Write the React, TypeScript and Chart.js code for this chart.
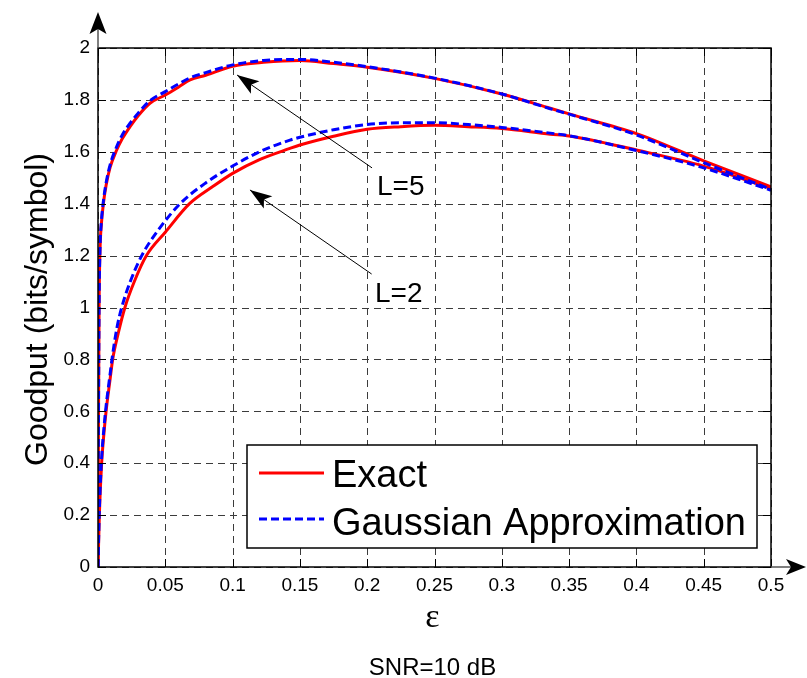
import React, { useEffect, useRef } from 'react';
import { Chart, registerables } from 'chart.js';

Chart.register(...registerables);

const FONT = '"Liberation Sans", Arial, Helvetica, sans-serif';

// ---- axis ticks ----
const xTickValues = [0, 0.05, 0.1, 0.15, 0.2, 0.25, 0.3, 0.35, 0.4, 0.45, 0.5];
const xTickLabels = ['0', '0.05', '0.1', '0.15', '0.2', '0.25', '0.3', '0.35', '0.4', '0.45', '0.5'];
const yTickValues = [0, 0.2, 0.4, 0.6, 0.8, 1, 1.2, 1.4, 1.6, 1.8, 2];
const yTickLabels = ['0', '0.2', '0.4', '0.6', '0.8', '1', '1.2', '1.4', '1.6', '1.8', '2'];

// ---- series: L=5 ----
const l5ExactEps = [0, 0.0003, 0.0008, 0.0015, 0.0025, 0.004, 0.006, 0.009, 0.0139, 0.018, 0.0238, 0.03, 0.0386, 0.05, 0.06, 0.0684, 0.08, 0.1, 0.1229, 0.15, 0.175, 0.2, 0.25, 0.3, 0.336, 0.35, 0.4, 0.45, 0.5];
const l5ExactGoodput = [0, 0.5, 1.0, 1.22, 1.32, 1.4, 1.47, 1.54, 1.607, 1.65, 1.697, 1.74, 1.787, 1.819, 1.85, 1.877, 1.895, 1.93, 1.945, 1.952, 1.94, 1.926, 1.883, 1.823, 1.768, 1.746, 1.67, 1.565, 1.465];
const l5GaussEps = [0, 0.0003, 0.0008, 0.0015, 0.0025, 0.004, 0.006, 0.009, 0.0139, 0.018, 0.0238, 0.03, 0.0386, 0.05, 0.06, 0.0684, 0.08, 0.1, 0.1229, 0.15, 0.175, 0.2, 0.25, 0.3, 0.336, 0.35, 0.4, 0.45, 0.5];
const l5GaussGoodput = [0, 0.5, 1.0, 1.23, 1.33, 1.41, 1.48, 1.55, 1.62, 1.665, 1.71, 1.75, 1.797, 1.832, 1.862, 1.885, 1.905, 1.935, 1.952, 1.956, 1.945, 1.928, 1.884, 1.823, 1.766, 1.745, 1.665, 1.558, 1.455];

// ---- series: L=2 ----
const l2ExactEps = [0, 0.001, 0.0027, 0.0045, 0.006, 0.0089, 0.0109, 0.015, 0.02, 0.027, 0.036, 0.05, 0.068, 0.085, 0.1, 0.12, 0.1426, 0.15, 0.175, 0.2, 0.225, 0.25, 0.275, 0.3, 0.336, 0.35, 0.4, 0.45, 0.5];
const l2ExactGoodput = [0, 0.2, 0.4, 0.52, 0.6, 0.72, 0.8, 0.9, 1.0, 1.1, 1.2, 1.29, 1.4, 1.465, 1.517, 1.57, 1.613, 1.626, 1.66, 1.687, 1.697, 1.702, 1.697, 1.69, 1.668, 1.661, 1.607, 1.545, 1.458];
const l2GaussEps = [0, 0.001, 0.0027, 0.0045, 0.006, 0.0089, 0.0109, 0.014, 0.0176, 0.024, 0.0325, 0.045, 0.061, 0.08, 0.1, 0.12, 0.1426, 0.15, 0.175, 0.2, 0.225, 0.25, 0.275, 0.3, 0.336, 0.35, 0.4, 0.45, 0.5];
const l2GaussGoodput = [0, 0.22, 0.42, 0.54, 0.62, 0.74, 0.82, 0.92, 1.0, 1.1, 1.2, 1.3, 1.4, 1.48, 1.545, 1.6, 1.645, 1.656, 1.685, 1.705, 1.712, 1.712, 1.705, 1.694, 1.672, 1.662, 1.605, 1.538, 1.452];

const seriesLabels = ['Exact', 'Gaussian Approximation'];
const xTitle = 'ε';
const yTitle = 'Goodput (bits/symbol)';
const bottomNote = 'SNR=10 dB';

// annotation labels with arrow tip / tail, in data units
const annotationLabels = ['L=5', 'L=2'];
const annotationText = [[0.2073, 1.434], [0.2058, 1.021]];
const annotationTail = [[0.2036, 1.538], [0.2033, 1.129]];
const annotationTip = [[0.1033, 1.896], [0.1129, 1.453]];

const RED = '#ff0000';
const BLUE = '#0000ff';
const DASH = [8, 4];

const toPoints = (xs: number[], ys: number[]) => xs.map((x, i) => ({ x, y: ys[i] }));

function arrowHead(ctx: CanvasRenderingContext2D, tx: number, ty: number, fx: number, fy: number, len: number, half: number, notch: number) {
  const ang = Math.atan2(ty - fy, tx - fx);
  const c = Math.cos(ang), s = Math.sin(ang);
  const bx = tx - len * c, by = ty - len * s;
  const nx = tx - (len - notch) * c, ny = ty - (len - notch) * s;
  ctx.beginPath();
  ctx.moveTo(tx, ty);
  ctx.lineTo(bx - half * s, by + half * c);
  ctx.lineTo(nx, ny);
  ctx.lineTo(bx + half * s, by - half * c);
  ctx.closePath();
  ctx.fill();
}

const decorPlugin = {
  id: 'decor',
  beforeDatasetsDraw(chart: any) {
    const { ctx, chartArea: a, scales } = chart;
    const xs = scales.x, ys = scales.y;
    ctx.save();
    ctx.strokeStyle = '#3c3c3c';
    ctx.lineWidth = 1;
    ctx.setLineDash([7, 5]);
    xTickValues.forEach((v) => {
      const px = Math.round(xs.getPixelForValue(v)) + 0.5;
      ctx.beginPath(); ctx.moveTo(px, a.bottom); ctx.lineTo(px, a.top); ctx.stroke();
    });
    yTickValues.forEach((v) => {
      const py = Math.round(ys.getPixelForValue(v)) + 0.5;
      ctx.beginPath(); ctx.moveTo(a.left, py); ctx.lineTo(a.right, py); ctx.stroke();
    });
    ctx.restore();
  },
  afterDatasetsDraw(chart: any) {
    const { ctx, chartArea: a, scales } = chart;
    const xs = scales.x, ys = scales.y;
    ctx.save();
    ctx.setLineDash([]);

    // inward tick marks
    ctx.strokeStyle = '#000';
    ctx.lineWidth = 1;
    const tl = 8;
    xTickValues.forEach((v) => {
      const px = Math.round(xs.getPixelForValue(v)) + 0.5;
      ctx.beginPath();
      ctx.moveTo(px, a.bottom); ctx.lineTo(px, a.bottom - tl);
      ctx.moveTo(px, a.top); ctx.lineTo(px, a.top + tl);
      ctx.stroke();
    });
    yTickValues.forEach((v) => {
      const py = Math.round(ys.getPixelForValue(v)) + 0.5;
      ctx.beginPath();
      ctx.moveTo(a.left, py); ctx.lineTo(a.left + tl, py);
      ctx.moveTo(a.right, py); ctx.lineTo(a.right - tl, py);
      ctx.stroke();
    });

    // frame
    ctx.lineWidth = 1.5;
    ctx.strokeStyle = '#000';
    ctx.strokeRect(a.left, a.top, a.right - a.left, a.bottom - a.top);

    // axis arrows
    ctx.strokeStyle = '#555';
    ctx.lineWidth = 1.5;
    ctx.beginPath(); ctx.moveTo(a.left, a.top); ctx.lineTo(a.left, 28); ctx.stroke();
    ctx.beginPath(); ctx.moveTo(a.right, a.bottom); ctx.lineTo(792, a.bottom); ctx.stroke();
    ctx.fillStyle = '#000';
    arrowHead(ctx, a.left, 12, a.left, a.top, 22, 8.5, 5);
    arrowHead(ctx, 806, a.bottom, a.right, a.bottom, 20, 8, 5);

    // annotations
    ctx.strokeStyle = '#000';
    ctx.fillStyle = '#000';
    ctx.lineWidth = 1;
    ctx.font = `28px ${FONT}`;
    ctx.textAlign = 'left';
    ctx.textBaseline = 'alphabetic';
    annotationLabels.forEach((lab, i) => {
      const tx = xs.getPixelForValue(annotationTip[i][0]);
      const ty = ys.getPixelForValue(annotationTip[i][1]);
      const fx = xs.getPixelForValue(annotationTail[i][0]);
      const fy = ys.getPixelForValue(annotationTail[i][1]);
      ctx.beginPath(); ctx.moveTo(fx, fy); ctx.lineTo(tx, ty); ctx.stroke();
      arrowHead(ctx, tx, ty, fx, fy, 22, 7.5, 5);
      ctx.fillText(lab, xs.getPixelForValue(annotationText[i][0]), ys.getPixelForValue(annotationText[i][1]));
    });

    // legend
    const lx = 247, ly = 445, lw = 510, lh = 103;
    ctx.fillStyle = '#fff';
    ctx.fillRect(lx, ly, lw, lh);
    ctx.strokeStyle = '#000';
    ctx.lineWidth = 1.5;
    ctx.strokeRect(lx, ly, lw, lh);
    ctx.lineWidth = 3;
    ctx.strokeStyle = RED;
    ctx.beginPath(); ctx.moveTo(259, 473); ctx.lineTo(324, 473); ctx.stroke();
    ctx.strokeStyle = BLUE;
    ctx.setLineDash(DASH);
    ctx.beginPath(); ctx.moveTo(259, 519); ctx.lineTo(324, 519); ctx.stroke();
    ctx.setLineDash([]);
    ctx.fillStyle = '#000';
    ctx.font = `38px ${FONT}`;
    ctx.fillText(seriesLabels[0], 332, 487);
    ctx.fillText(seriesLabels[1], 332, 535);

    // titles
    ctx.textAlign = 'center';
    ctx.font = `34px "Liberation Serif", "DejaVu Serif", serif`;
    ctx.fillText(xTitle, (a.left + a.right) / 2 - 2, 627);
    ctx.font = `24px ${FONT}`;
    ctx.fillText(bottomNote, (a.left + a.right) / 2 - 2, 675);
    ctx.save();
    ctx.translate(47, (a.top + a.bottom) / 2 + 2);
    ctx.rotate(-Math.PI / 2);
    ctx.font = `32px ${FONT}`;
    ctx.fillText(yTitle, 0, 0);
    ctx.restore();

    ctx.restore();
  },
};

export default function App() {
  const canvasRef = useRef<HTMLCanvasElement | null>(null);

  useEffect(() => {
    const canvas = canvasRef.current;
    if (!canvas) return;
    const chart = new Chart(canvas, {
      type: 'scatter',
      data: {
        datasets: [
          { label: seriesLabels[1], data: toPoints(l5GaussEps, l5GaussGoodput), borderColor: BLUE, borderWidth: 3, borderDash: DASH, showLine: true, pointRadius: 0, order: 0 },
          { label: seriesLabels[1], data: toPoints(l2GaussEps, l2GaussGoodput), borderColor: BLUE, borderWidth: 3, borderDash: DASH, showLine: true, pointRadius: 0, order: 0 },
          { label: seriesLabels[0], data: toPoints(l5ExactEps, l5ExactGoodput), borderColor: RED, borderWidth: 3, showLine: true, pointRadius: 0, order: 1 },
          { label: seriesLabels[0], data: toPoints(l2ExactEps, l2ExactGoodput), borderColor: RED, borderWidth: 3, showLine: true, pointRadius: 0, order: 1 },
        ],
      },
      options: {
        animation: false,
        responsive: true,
        maintainAspectRatio: false,
        events: [],
        layout: { padding: { left: 0, top: 48, right: 36, bottom: 0 } },
        plugins: { legend: { display: false }, tooltip: { enabled: false }, title: { display: false } },
        elements: { line: { cubicInterpolationMode: 'monotone', borderCapStyle: 'butt', borderJoinStyle: 'round' } },
        scales: {
          x: {
            type: 'linear',
            min: 0,
            max: 0.5,
            grid: { display: false, drawTicks: false },
            border: { display: false },
            afterBuildTicks: (scale: any) => { scale.ticks = xTickValues.map((v) => ({ value: v })); },
            afterFit: (scale: any) => { scale.height = 111; },
            ticks: {
              autoSkip: false,
              maxRotation: 0,
              padding: 7,
              color: '#000',
              font: { family: FONT, size: 19 },
              callback: (_v: any, i: number) => xTickLabels[i],
            },
          },
          y: {
            type: 'linear',
            min: 0,
            max: 2,
            grid: { display: false, drawTicks: false },
            border: { display: false },
            afterBuildTicks: (scale: any) => { scale.ticks = yTickValues.map((v) => ({ value: v })); },
            afterFit: (scale: any) => { scale.width = 98; },
            ticks: {
              autoSkip: false,
              padding: 8,
              color: '#000',
              font: { family: FONT, size: 19 },
              callback: (_v: any, i: number) => yTickLabels[i],
            },
          },
        },
      },
      plugins: [decorPlugin],
    });
    return () => chart.destroy();
  }, []);

  return (
    <div style={{ position: 'absolute', left: 0, top: 0, width: 807, height: 678, background: '#fff' }}>
      <canvas ref={canvasRef} />
    </div>
  );
}
